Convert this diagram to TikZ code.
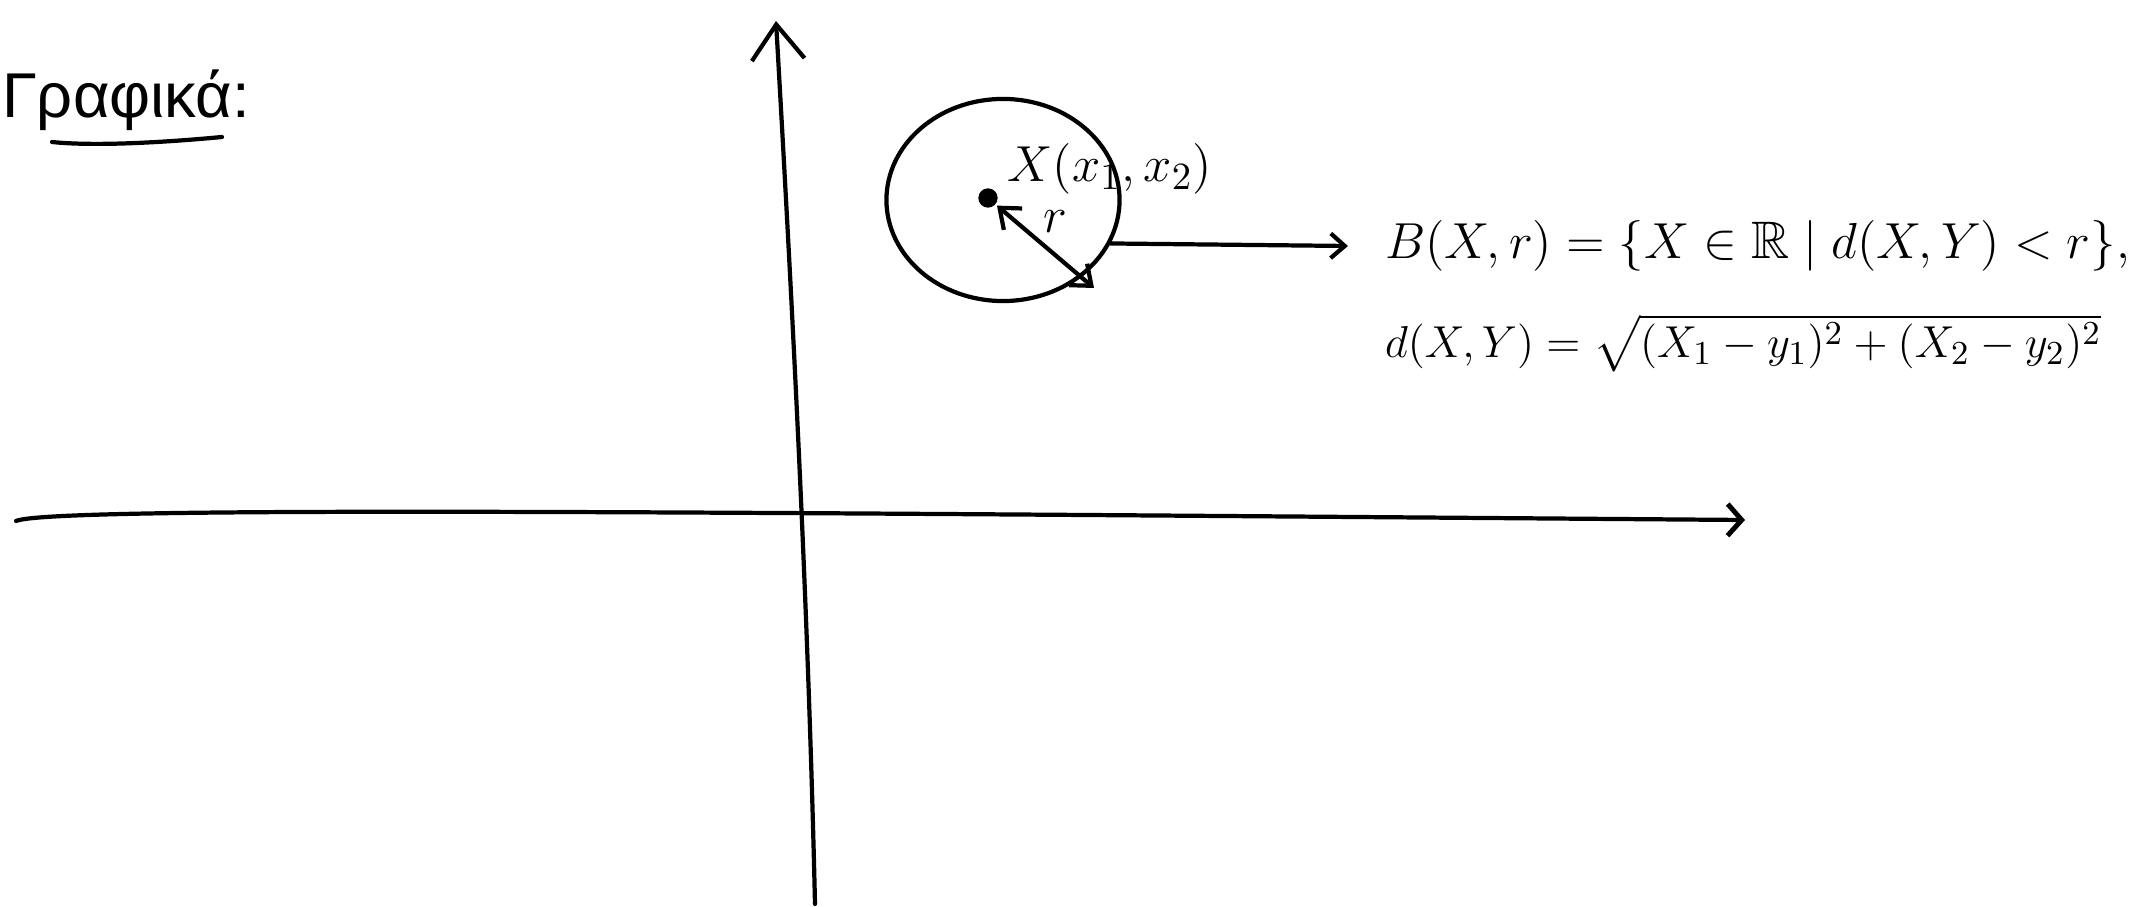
\documentclass[tikz,border=0pt]{standalone}
\usepackage{amssymb}
\usepackage{graphicx}
\usepackage{fontspec}
\newfontfamily\greekfont{Liberation Sans}
\usetikzlibrary{arrows.meta,shapes.geometric}
\begin{document}
\begin{tikzpicture}[x=0.01cm,y=-0.01cm,line width=1.2pt,line cap=round,
  yarrow/.style={-{Straight Barb[length=10pt,width=15pt,line width=1.2pt]}},
  xarrow/.style={-{Straight Barb[length=4pt,width=9pt,line width=1.4pt]}},
  rarrow/.style={{Straight Barb[length=5pt,width=8pt]}-{Straight Barb[length=5pt,width=8pt]}},
  parrow/.style={-{Straight Barb[length=4pt,width=7pt]}},
  lbl/.style={inner sep=0pt,font=\fontsize{15}{18}\selectfont}]
\useasboundingbox (0,0) rectangle (2147,907);
% title
\node[anchor=west,inner sep=0pt,font=\greekfont\fontsize{18}{21}\selectfont] (title) at (0,100) {Γραφικά:};
\coordinate (ul1) at (52,142);
\coordinate (ul2) at (222,137);
\draw (ul1) .. controls (100,147) and (180,141) .. (ul2);
% axes
\coordinate (yb) at (815,904);
\coordinate (yt) at (776,21);
\draw[yarrow] (yb) .. controls (808,600) and (792,300) .. (yt);
\coordinate (xl) at (16,521);
\coordinate (xr) at (1745,520);
\draw[xarrow] (xl) .. controls (50,506) and (700,512) .. (xr);
% ball
\node[ellipse,draw,minimum width=2.33cm,minimum height=2.02cm,inner sep=0pt] (ball) at (1003,200) {};
\node[circle,fill,inner sep=0pt,minimum size=5.5pt] (c) at (988,198) {};
\coordinate (re) at (1094,288);
\draw[rarrow] (c) -- (re);
\node[lbl] (xlab) at (1110,169) {$X(x_1,x_2)$};
\node[lbl] (rlab) at (1055,222) {$r$};
% formulas
\node[lbl,anchor=west,font=\fontsize{15}{18}\selectfont] (f1) at (1383,246) {$B(X,r)=\{X\in\mathbb{R}\mid d(X,Y)<r\},$};
\node[lbl,anchor=west,font=\fontsize{12.6}{16}\selectfont] (f2) at (1383,343) {\scalebox{1.06}{$d(X,Y)=\sqrt{(X_1-y_1)^2+(X_2-y_2)^2}$}};
\draw[parrow] (ball.-22) -- ([xshift=-0.35cm]f1.west);
\end{tikzpicture}
\end{document}
